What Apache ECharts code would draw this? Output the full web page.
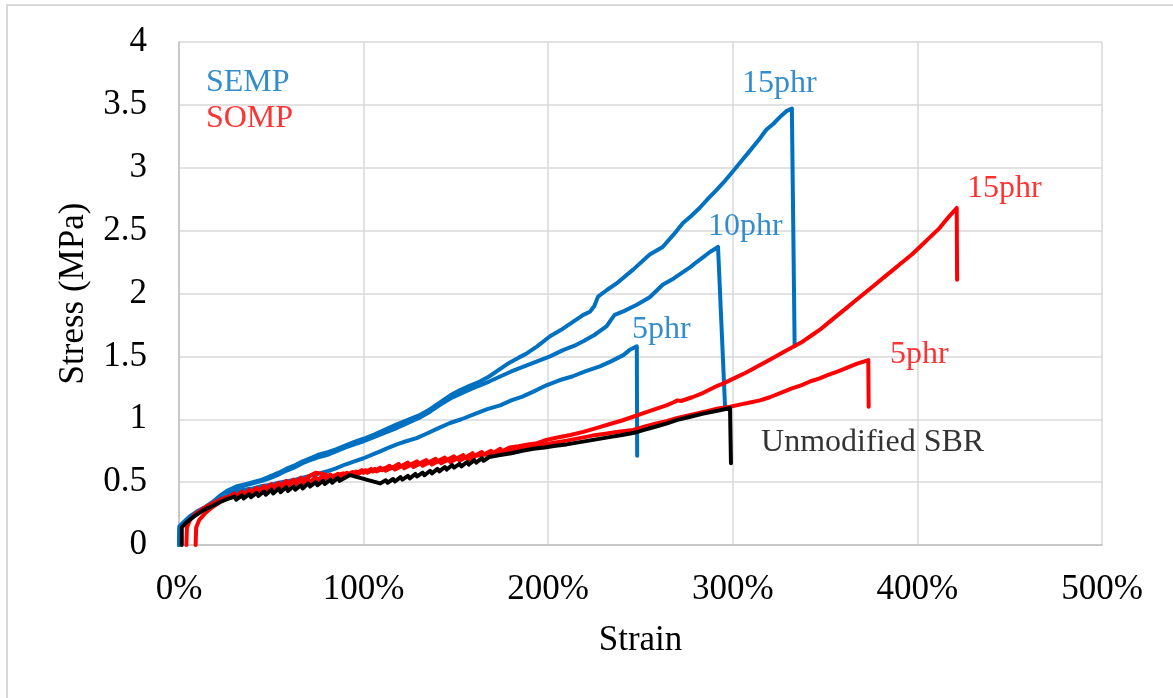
<!DOCTYPE html>
<html>
<head>
<meta charset="utf-8">
<script src="https://cdn.jsdelivr.net/npm/echarts@6/dist/echarts.min.js"></script>
<style>
  html, body { margin: 0; padding: 0; background: #fff; }
  #chart { width: 1173px; height: 698px; }
</style>
</head>
<body>
<div id="chart"></div>
<script>
// Strain in %, stress in MPa
const xTicks = [0, 100, 200, 300, 400, 500];
const yTicks = [0, 0.5, 1, 1.5, 2, 2.5, 3, 3.5, 4];

const semp15 = [[0,0],[0.2,0.15],[3,0.19],[6,0.23],[10,0.27],[14,0.3],[18,0.34],[22,0.39],[26,0.43],[31,0.465],[35,0.48],[40,0.5],[45,0.52],[49,0.545],[54,0.575],[58,0.605],[63,0.635],[67,0.665],[72,0.695],[76,0.72],[81,0.74],[85,0.76],[90,0.79],[95,0.82],[100,0.845],[106,0.88],[112,0.92],[118,0.96],[124,0.995],[130,1.03],[136,1.08],[141,1.13],[147,1.19],[152,1.23],[158,1.27],[163,1.3],[168,1.34],[174,1.4],[179,1.45],[184,1.49],[188,1.52],[194,1.58],[201,1.66],[208,1.72],[215,1.79],[219,1.83],[222.6,1.855],[225,1.9],[227,1.975],[232,2.03],[237,2.08],[246,2.19],[255,2.31],[262,2.37],[268,2.47],[273,2.56],[277,2.61],[282,2.68],[287,2.76],[291,2.82],[296,2.9],[300,2.97],[305,3.06],[309,3.13],[314,3.22],[318,3.3],[322,3.35],[326,3.41],[329,3.45],[332,3.47],[333.5,1.58]];

const semp10 = [[0,0],[0.3,0.14],[3,0.18],[6,0.22],[10,0.26],[14,0.29],[18,0.33],[22,0.37],[26,0.41],[31,0.45],[35,0.47],[40,0.49],[45,0.51],[49,0.53],[54,0.56],[58,0.59],[63,0.62],[67,0.65],[72,0.68],[76,0.7],[81,0.72],[85,0.745],[90,0.775],[95,0.8],[100,0.825],[106,0.86],[112,0.895],[118,0.93],[124,0.97],[130,1.01],[136,1.06],[141,1.11],[147,1.165],[152,1.2],[158,1.24],[163,1.27],[168,1.3],[174,1.34],[180,1.38],[187,1.42],[194,1.46],[201,1.5],[208,1.55],[215,1.59],[219,1.62],[225,1.67],[231.7,1.74],[234,1.79],[236,1.83],[241,1.86],[248,1.91],[255,1.97],[262,2.07],[268,2.12],[273,2.17],[277,2.21],[280.4,2.25],[284,2.29],[287.6,2.33],[292,2.37],[295.8,1.1]];

const semp5 = [[0,0],[0.4,0.13],[3,0.18],[6,0.21],[10,0.25],[14,0.29],[18,0.33],[22,0.37],[26,0.4],[31,0.42],[35,0.44],[40,0.45],[45,0.47],[50,0.48],[54,0.495],[58,0.505],[63,0.52],[67,0.535],[71,0.55],[76,0.57],[81,0.59],[85,0.61],[90,0.64],[95,0.665],[100,0.69],[105,0.72],[109,0.745],[113,0.77],[118,0.8],[123,0.825],[128.7,0.85],[134,0.885],[140,0.925],[146.8,0.97],[153,1.0],[160,1.04],[167,1.08],[174,1.11],[180,1.15],[186,1.18],[192,1.22],[199,1.27],[206,1.31],[213,1.34],[220,1.38],[228,1.42],[234,1.46],[240.7,1.51],[244,1.55],[248,1.58],[248.2,0.71]];

const somp15 = [[9,0],[9.3,0.14],[11,0.2],[14,0.25],[18,0.3],[22,0.34],[26,0.37],[30,0.41],[31,0.385],[34,0.425],[35,0.4],[38,0.44],[39,0.415],[42,0.455],[43,0.43],[46,0.47],[47,0.445],[50,0.485],[51,0.46],[54,0.495],[55,0.47],[58,0.51],[59,0.485],[62,0.52],[63,0.495],[66,0.535],[67,0.51],[70,0.545],[74,0.575],[78,0.565],[82,0.545],[85,0.555],[89,0.57],[90,0.55],[94,0.58],[95,0.56],[99,0.595],[100,0.575],[104,0.605],[105,0.585],[109,0.615],[110,0.595],[114,0.63],[115,0.61],[119,0.645],[120,0.625],[124,0.655],[125,0.635],[129,0.665],[130,0.645],[134,0.675],[135,0.655],[139,0.685],[140,0.665],[144,0.695],[145,0.675],[149,0.705],[150,0.685],[154,0.715],[155,0.695],[159,0.73],[160,0.71],[164,0.74],[165,0.72],[169,0.75],[170,0.73],[174,0.765],[175,0.745],[179,0.775],[180,0.76],[184,0.785],[185,0.77],[189,0.8],[190,0.785],[194,0.81],[195,0.8],[199,0.835],[200,0.82],[205,0.855],[212,0.875],[219,0.9],[226,0.93],[233,0.96],[240,0.99],[246,1.02],[252,1.05],[258,1.08],[264,1.11],[268,1.135],[270,1.15],[272,1.145],[278,1.175],[284,1.21],[290,1.255],[295,1.285],[302,1.335],[307,1.37],[312,1.41],[317,1.45],[322,1.49],[327,1.53],[332,1.57],[337,1.61],[342,1.66],[347,1.71],[352,1.77],[357,1.83],[362,1.89],[367,1.95],[372,2.01],[377,2.07],[382,2.13],[387,2.19],[392,2.25],[397,2.31],[402,2.38],[407,2.45],[412,2.52],[417,2.61],[421.3,2.68],[421.5,2.11]];

const somp5 = [[4,0],[4.3,0.14],[6,0.2],[9,0.25],[13,0.29],[18,0.33],[22,0.36],[26,0.38],[30,0.4],[31,0.375],[34,0.41],[35,0.385],[38,0.42],[39,0.395],[42,0.435],[43,0.41],[46,0.45],[47,0.425],[50,0.465],[51,0.44],[54,0.48],[55,0.455],[58,0.495],[59,0.47],[62,0.505],[63,0.48],[66,0.515],[67,0.49],[70,0.525],[71,0.5],[74,0.54],[75,0.515],[78,0.55],[79,0.525],[82,0.56],[83,0.535],[86,0.565],[87,0.545],[91,0.575],[92,0.555],[96,0.585],[97,0.565],[101,0.595],[102,0.575],[106,0.605],[107,0.585],[111,0.61],[112,0.59],[116,0.62],[117,0.6],[121,0.63],[122,0.61],[126,0.64],[127,0.62],[131,0.65],[132,0.63],[136,0.66],[137,0.64],[141,0.67],[142,0.65],[146,0.68],[147,0.66],[151,0.69],[152,0.67],[156,0.7],[157,0.68],[161,0.71],[162,0.695],[166,0.72],[167,0.705],[171,0.73],[172,0.715],[176,0.74],[180,0.75],[186,0.77],[192,0.785],[198,0.8],[204,0.815],[210,0.83],[217,0.85],[224,0.87],[231,0.885],[238,0.9],[246,0.915],[252,0.94],[258,0.965],[264,0.985],[270,1.01],[273,1.02],[280,1.045],[286,1.065],[292,1.085],[298.5,1.1],[305,1.12],[310,1.135],[314.7,1.15],[320,1.175],[326,1.21],[332,1.245],[337,1.27],[341.8,1.3],[347,1.325],[352,1.355],[357,1.38],[362,1.41],[367,1.44],[373.4,1.47],[373.6,1.1]];

const sbr = [[1.5,0],[1.5,0.14],[4,0.18],[8,0.225],[13,0.275],[18,0.31],[22,0.34],[26,0.365],[30,0.385],[31,0.36],[34,0.395],[35,0.37],[38,0.405],[39,0.38],[42,0.415],[43,0.39],[46,0.425],[47,0.4],[50,0.44],[51,0.41],[54,0.45],[55,0.42],[58,0.46],[59,0.43],[62,0.465],[63,0.44],[66,0.475],[67,0.45],[70,0.49],[71,0.465],[74,0.5],[75,0.475],[78,0.51],[79,0.485],[82,0.52],[83,0.495],[86,0.535],[87,0.51],[92.6,0.556],[109,0.49],[112,0.515],[113,0.495],[116,0.525],[117,0.505],[120,0.54],[121,0.52],[124,0.55],[125,0.53],[128,0.565],[129,0.545],[132,0.575],[133,0.555],[136,0.59],[137,0.57],[140,0.605],[141,0.585],[144,0.62],[145,0.6],[148,0.635],[149,0.615],[152,0.645],[153,0.625],[156,0.66],[157,0.64],[160,0.675],[161,0.655],[164,0.69],[165,0.67],[168,0.7],[169,0.685],[174,0.715],[180,0.73],[186,0.75],[192,0.765],[198,0.775],[204,0.79],[210,0.8],[218,0.82],[226,0.84],[234,0.86],[240,0.875],[246,0.89],[252,0.915],[258,0.94],[264,0.965],[270,0.995],[277,1.02],[284,1.045],[291,1.065],[298.5,1.09],[299,0.65]];

// Text annotations: [strain, stress, text, colour]
const notes = [
  [14.6, 3.674, 'SEMP', '#0070C0'],
  [14.6, 3.388, 'SOMP', '#FF0000'],
  [305.0, 3.666, '15phr', '#0070C0'],
  [286.6, 2.529, '10phr', '#0070C0'],
  [245.4, 1.710, '5phr', '#0070C0'],
  [426.9, 2.831, '15phr', '#FF0000'],
  [385.2, 1.511, '5phr', '#FF0000'],
  [315.3, 0.811, 'Unmodified SBR', '#000000']
];

const FONT = '"Liberation Serif", "Times New Roman", serif';
const BLUE = '#0070C0', RED = '#FF0000', BLACK = '#000000';

function curve(name, data, color) {
  return {
    name, type: 'line', data, showSymbol: false, symbol: 'none',
    lineStyle: { color, width: 4, join: 'round', cap: 'round' },
    itemStyle: { color }, animation: false, silent: true
  };
}

const chart = echarts.init(document.getElementById('chart'), null, { renderer: 'canvas' });
chart.setOption({
  backgroundColor: '#ffffff',
  animation: false,
  grid: { left: 179, right: 71, top: 42, bottom: 153, containLabel: false },
  graphic: [{
    type: 'rect', silent: true, z: -10,
    shape: { x: 7, y: 5, width: 1300, height: 800 },
    style: { fill: 'none', stroke: '#D9D9D9', lineWidth: 2 }
  }],
  xAxis: {
    type: 'value', min: xTicks[0], max: xTicks[xTicks.length - 1], interval: 100,
    name: 'Strain', nameLocation: 'middle', nameGap: 78,
    nameTextStyle: { fontFamily: FONT, fontSize: 35, color: '#000' },
    axisLine: { show: true, lineStyle: { color: '#BFBFBF', width: 1.5 } },
    axisTick: { show: false },
    splitLine: { show: true, lineStyle: { color: '#D9D9D9', width: 1.5 } },
    axisLabel: { fontFamily: FONT, fontSize: 35, color: '#000', margin: 27,
                 formatter: v => v + '%' }
  },
  yAxis: {
    type: 'value', min: yTicks[0], max: yTicks[yTicks.length - 1], interval: 0.5,
    name: 'Stress (MPa)', nameLocation: 'middle', nameGap: 88,
    nameTextStyle: { fontFamily: FONT, fontSize: 35, color: '#000' },
    axisLine: { show: true, lineStyle: { color: '#BFBFBF', width: 1.5 } },
    axisTick: { show: false },
    splitLine: { show: true, lineStyle: { color: '#D9D9D9', width: 1.5 } },
    axisLabel: { fontFamily: FONT, fontSize: 35, color: '#000', margin: 32 }
  },
  series: [
    curve('SEMP 5phr', semp5, BLUE),
    curve('SEMP 10phr', semp10, BLUE),
    curve('SEMP 15phr', semp15, BLUE),
    curve('SOMP 5phr', somp5, RED),
    curve('SOMP 15phr', somp15, RED),
    curve('Unmodified SBR', sbr, BLACK),
    {
      type: 'scatter', symbolSize: 0, silent: true, animation: false, z: 5,
      data: notes.map(n => ({ value: [n[0], n[1]], name: n[2],
        label: { color: n[3] } })),
      label: {
        show: true, position: 'inside', align: 'left', verticalAlign: 'middle',
        fontFamily: FONT, fontSize: 32, formatter: p => p.name
      }
    }
  ]
});
</script>
</body>
</html>
